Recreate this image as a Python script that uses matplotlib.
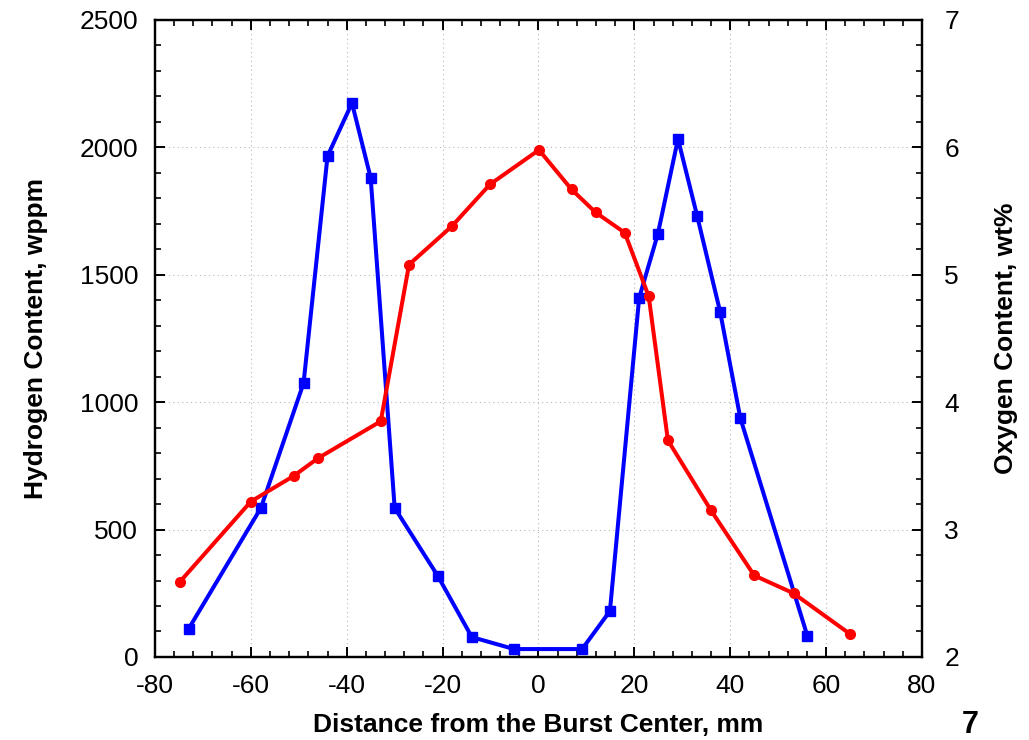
import matplotlib

matplotlib.use("Agg")
import matplotlib.pyplot as plt
from matplotlib.ticker import MultipleLocator

plt.rcParams["font.family"] = ["Liberation Sans", "DejaVu Sans"]
plt.rcParams["axes.unicode_minus"] = False

# Hydrogen profile (left axis, wppm)
h_dist = [-73.0, -57.9, -49.0, -44.0, -38.9, -35.0, -30.0, -21.0, -13.9, -5.1,
          9.1, 14.9, 21.0, 24.9, 29.1, 33.1, 37.9, 42.1, 56.1]
h_wppm = [110, 585, 1075, 1966, 2174, 1880, 585, 318, 78, 31,
          31, 180, 1409, 1660, 2033, 1731, 1354, 938, 82]

# Oxygen profile (right axis, wt%)
o_dist = [-74.8, -60.0, -51.1, -46.0, -32.9, -27.0, -18.1, -10.1, 0.1, 6.9,
          11.9, 18.0, 23.0, 27.0, 36.0, 45.0, 53.2, 65.0]
o_wt = [2.59, 3.22, 3.42, 3.56, 3.85, 5.08, 5.38, 5.71, 5.98, 5.67,
        5.49, 5.33, 4.83, 3.70, 3.15, 2.64, 2.50, 2.18]

fig = plt.figure(figsize=(10.29, 7.40), dpi=100)
ax = fig.add_axes([0.1506, 0.1122, 0.7454, 0.8608])
ax2 = ax.twinx()

ax.plot(h_dist, h_wppm, color="#0000ff", lw=2.9, marker="s", ms=7.5, zorder=3)
ax2.plot(o_dist, o_wt, color="#ff0000", lw=2.9, marker="o", ms=7, zorder=3)

ax.set_xlim(-80, 80)
ax.set_ylim(0, 2500)
ax2.set_ylim(2, 7)

ax.xaxis.set_major_locator(MultipleLocator(20))
ax.xaxis.set_minor_locator(MultipleLocator(4))
ax.yaxis.set_major_locator(MultipleLocator(500))
ax.yaxis.set_minor_locator(MultipleLocator(100))
ax2.yaxis.set_major_locator(MultipleLocator(1))
ax2.yaxis.set_minor_locator(MultipleLocator(0.2))

ax.grid(True, which="major", color="#b8b8b8", ls=(0, (1, 3)), lw=0.8)

ax.tick_params(axis="x", which="both", direction="in", top=True, labelsize=19, pad=12)
ax.tick_params(axis="y", which="both", direction="in", right=False, labelsize=19, pad=12)
ax2.tick_params(axis="y", which="both", direction="in", labelsize=19, pad=16)
for a in (ax, ax2):
    a.tick_params(which="major", length=7, width=1.4)
    a.tick_params(which="minor", length=4, width=1.2)
    for s in a.spines.values():
        s.set_linewidth(1.6)

ax.set_xlabel("Distance from the Burst Center, mm", fontsize=19, fontweight="bold", labelpad=11)
ax.set_ylabel("Hydrogen Content, wppm", fontsize=19, fontweight="bold", labelpad=23)
ax2.set_ylabel("Oxygen Content, wt%", fontsize=19, fontweight="bold", labelpad=25)

fig.text(0.943, 0.0, "7", fontsize=22, fontweight="bold", ha="center", va="bottom")

fig.savefig("out.png", dpi=100)
